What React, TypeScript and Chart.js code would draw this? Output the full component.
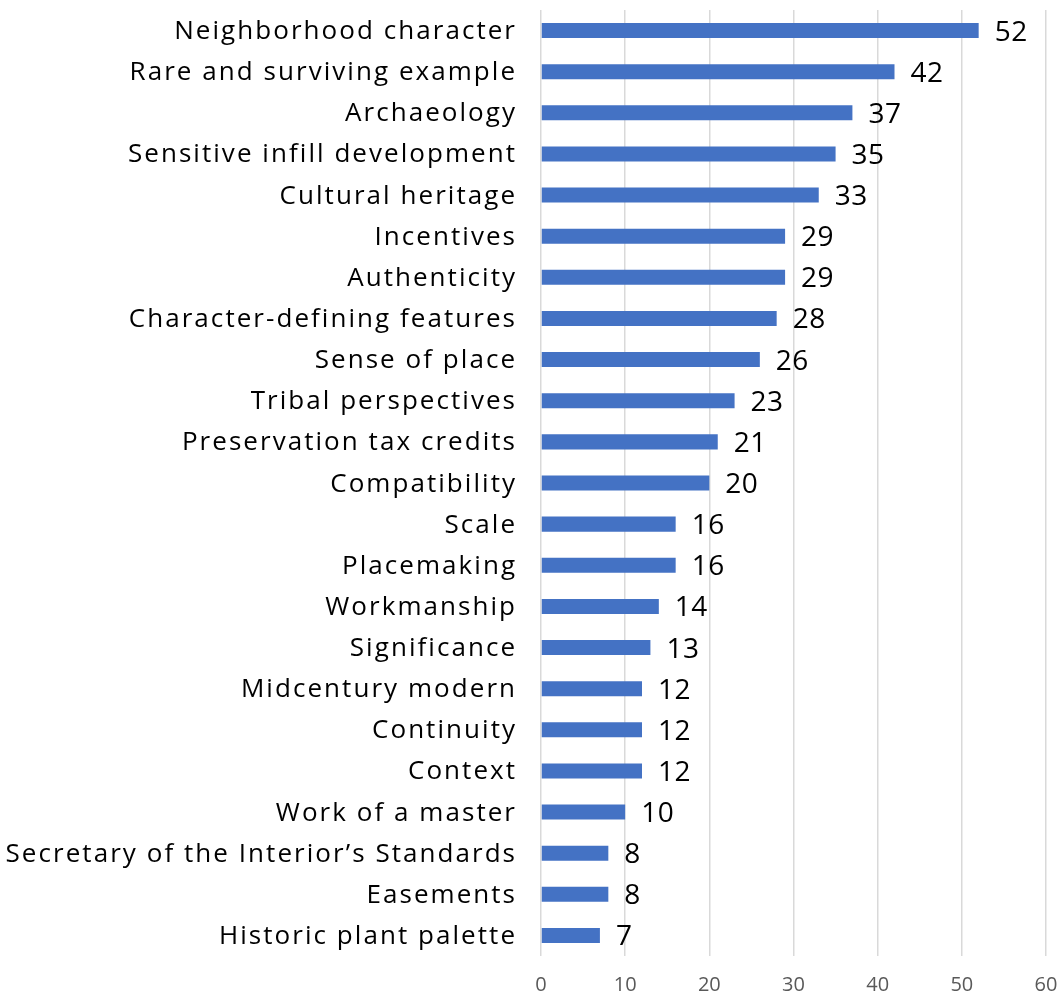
import React, { useEffect, useRef } from "react";
import { Chart, registerables } from "chart.js";

Chart.register(...registerables);

const categories = [
  "Neighborhood character",
  "Rare and surviving example",
  "Archaeology",
  "Sensitive infill development",
  "Cultural heritage",
  "Incentives",
  "Authenticity",
  "Character-defining features",
  "Sense of place",
  "Tribal perspectives",
  "Preservation tax credits",
  "Compatibility",
  "Scale",
  "Placemaking",
  "Workmanship",
  "Significance",
  "Midcentury modern",
  "Continuity",
  "Context",
  "Work of a master",
  "Secretary of the Interior\u2019s Standards",
  "Easements",
  "Historic plant palette",
];
const values = [52, 42, 37, 35, 33, 29, 29, 28, 26, 23, 21, 20, 16, 16, 14, 13, 12, 12, 12, 10, 8, 8, 7];
const xTicks = [0, 10, 20, 30, 40, 50, 60];

const catFont = "26px 'Open Sans', 'Noto Sans', sans-serif";
const catSpacing = 2.05;
const valFont = "28px 'Open Sans', 'Noto Sans', sans-serif";
const valSpacing = 0.5;

const textPlugin = {
  id: "textPlugin",
  afterDatasetsDraw(chart: any) {
    const ctx = chart.ctx;
    const meta = chart.getDatasetMeta(0);
    const yScale = chart.scales.y;
    ctx.save();
    ctx.fillStyle = "#000000";
    ctx.textBaseline = "alphabetic";
    ctx.font = catFont;
    ctx.textAlign = "right";
    (ctx as any).letterSpacing = `${catSpacing}px`;
    categories.forEach((c, i) => {
      const y = yScale.getPixelForTick(i);
      ctx.fillText(c, yScale.right - 26 + catSpacing, y + 8.5);
    });
    ctx.font = valFont;
    ctx.textAlign = "left";
    (ctx as any).letterSpacing = `${valSpacing}px`;
    meta.data.forEach((bar: any, i: number) => {
      ctx.fillText(String(values[i]), bar.x + 16, bar.y + 10);
    });
    (ctx as any).letterSpacing = "0px";
    ctx.restore();
  },
};

export default function App() {
  const ref = useRef<HTMLCanvasElement>(null);
  useEffect(() => {
    if (!ref.current) return;
    const chart = new Chart(ref.current, {
      type: "bar",
      data: {
        labels: categories,
        datasets: [
          {
            data: values,
            backgroundColor: "#4472C4",
            barPercentage: 0.73,
            categoryPercentage: 0.5,
          },
        ],
      },
      options: {
        indexAxis: "y",
        animation: false,
        responsive: false,
        maintainAspectRatio: false,
        layout: { padding: { top: 10, right: 14, left: 0, bottom: 0 } },
        plugins: { legend: { display: false }, tooltip: { enabled: false } },
        scales: {
          x: {
            min: 0,
            max: 60,
            afterBuildTicks(axis: any) {
              axis.ticks = xTicks.map((v) => ({ value: v }));
            },
            grid: { color: "#d9d9d9", lineWidth: 1.5, drawTicks: false },
            border: { display: false },
            ticks: {
              color: "#595959",
              font: { family: "'Open Sans', 'Liberation Sans', sans-serif", size: 20 },
              padding: 17,
            },
            afterFit(axis: any) {
              axis.height = 40;
              axis.paddingLeft = 0;
              axis.paddingRight = 0;
            },
          },
          y: {
            grid: { display: false, drawTicks: false },
            border: { display: false },
            ticks: { display: false },
            afterFit(axis: any) {
              axis.width = 541;
              axis.paddingTop = 0;
              axis.paddingBottom = 0;
            },
          },
        },
      },
      plugins: [textPlugin],
    });
    return () => chart.destroy();
  }, []);
  return (
    <div style={{ position: "fixed", left: 0, top: 0, width: 1060, height: 996, background: "#fff" }}>
      <canvas ref={ref} width={1060} height={996} style={{ width: 1060, height: 996 }} />
    </div>
  );
}
